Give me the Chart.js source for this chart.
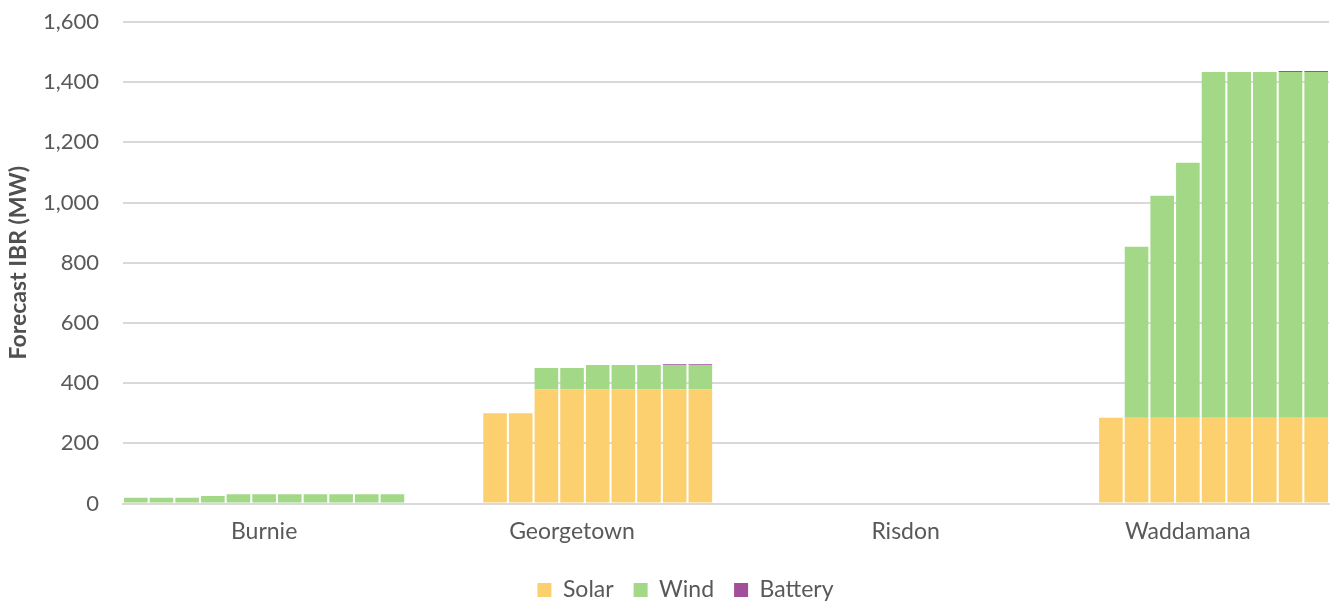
<!DOCTYPE html>
<html>
<head>
<meta charset="utf-8">
<script src="https://cdn.jsdelivr.net/npm/chart.js@4.4.1/dist/chart.umd.min.js"></script>
<style>
  html, body { margin: 0; padding: 0; background: #ffffff; }
  #wrap { width: 1334px; height: 606px; }
</style>
</head>
<body>
<div id="wrap"><canvas id="c" width="1334" height="606"></canvas></div>
<script>
// Sites along the category axis
const sites = ['Burnie', 'Georgetown', 'Risdon', 'Waddamana'];

// Forecast inverter-based resources (MW), one value per forecast year (11 years)
const burnieSolar       = [0, 0, 0, 0, 0, 0, 0, 0, 0, 0, 0];
const burnieWind        = [19, 19, 19, 25, 31, 31, 31, 31, 31, 31, 31];
const burnieBattery     = [0, 0, 0, 0, 0, 0, 0, 0, 0, 0, 0];

const georgetownSolar   = [0, 0, 300, 300, 380, 380, 380, 380, 380, 380, 380];
const georgetownWind    = [0, 0, 0, 0, 70, 70, 80, 80, 80, 80, 80];
const georgetownBattery = [0, 0, 0, 0, 0, 0, 0, 0, 0, 3, 3];

const risdonSolar       = [0, 0, 0, 0, 0, 0, 0, 0, 0, 0, 0];
const risdonWind        = [0, 0, 0, 0, 0, 0, 0, 0, 0, 0, 0];
const risdonBattery     = [0, 0, 0, 0, 0, 0, 0, 0, 0, 0, 0];

const waddamanaSolar    = [0, 0, 285, 285, 285, 285, 285, 285, 285, 285, 285];
const waddamanaWind     = [0, 0, 0, 568, 738, 847, 1149, 1149, 1149, 1149, 1149];
const waddamanaBattery  = [0, 0, 0, 0, 0, 0, 0, 0, 0, 3, 3];

// Y axis ticks
const yTicks = [0, 200, 400, 600, 800, 1000, 1200, 1400, 1600];

const seriesNames = ['Solar', 'Wind', 'Battery'];
const seriesColors = ['#FCD06E', '#A2D886', '#A34E9A'];

// Layout: blank slots placed after each site group
const gapSlots = [1, 2, 0];

const solarBySite   = [burnieSolar, georgetownSolar, risdonSolar, waddamanaSolar];
const windBySite    = [burnieWind, georgetownWind, risdonWind, waddamanaWind];
const batteryBySite = [burnieBattery, georgetownBattery, risdonBattery, waddamanaBattery];

// Flatten the per-site yearly values into one slot per bar; the site name sits on the middle slot
const labels = [];
const solar = [], wind = [], battery = [];
sites.forEach((site, i) => {
  const n = solarBySite[i].length;
  for (let j = 0; j < n; j++) {
    labels.push(j === Math.floor(n / 2) ? site : '');
    solar.push(solarBySite[i][j]);
    wind.push(windBySite[i][j]);
    battery.push(batteryBySite[i][j]);
  }
  const g = gapSlots[i] || 0;
  for (let k = 0; k < g; k++) {
    labels.push('');
    solar.push(null); wind.push(null); battery.push(null);
  }
});

const FONT = 'Lato, "Liberation Sans", sans-serif';
const TEXT = '#595959';
const GRID = '#d9d9d9';

// Place the legend row under the axis labels
const legendPlace = {
  id: 'legendPlace',
  afterLayout(chart) {
    const lg = chart.legend;
    const dx = 21;
    const dy = 558.5 - lg.top;
    lg.left += dx; lg.right += dx;
    lg.top += dy; lg.bottom += dy;
  }
};

new Chart(document.getElementById('c'), {
  type: 'bar',
  data: {
    labels: labels,
    datasets: [solar, wind, battery].map((data, i) => ({
      label: seriesNames[i],
      data: data,
      backgroundColor: seriesColors[i],
      borderWidth: 0,
      barPercentage: 0.92,
      categoryPercentage: 1.0,
      stack: 'ibr'
    }))
  },
  options: {
    responsive: false,
    animation: false,
    devicePixelRatio: 1,
    layout: { padding: { top: 22, right: 5, bottom: 5, left: 0 } },
    plugins: {
      legend: {
        position: 'bottom',
        labels: {
          boxWidth: 14,
          boxHeight: 14,
          padding: 20,
          color: TEXT,
          font: { family: FONT, size: 23 }
        }
      },
      tooltip: { enabled: false }
    },
    scales: {
      x: {
        stacked: true,
        grid: { display: false, drawTicks: false },
        border: { display: true, color: GRID, width: 2 },
        ticks: {
          autoSkip: false,
          maxRotation: 0,
          minRotation: 0,
          padding: 14,
          color: TEXT,
          font: { family: FONT, size: 23 }
        },
        afterFit(scale) { scale.height = 44.5; }
      },
      y: {
        stacked: true,
        min: yTicks[0],
        max: yTicks[yTicks.length - 1],
        afterBuildTicks(scale) { scale.ticks = yTicks.map(v => ({ value: v })); },
        grid: { color: GRID, lineWidth: 2, drawTicks: false },
        border: { display: false },
        ticks: {
          padding: 24,
          color: TEXT,
          font: { family: FONT, size: 22 },
          callback: v => v.toLocaleString('en-US')
        },
        title: {
          display: true,
          text: 'Forecast IBR (MW)',
          color: '#505050',
          font: { family: FONT, size: 23, weight: 'bold' },
          padding: { top: 5, bottom: 0 }
        },
        afterFit(scale) {
          scale.width = 123;
          scale.paddingTop = 0;
          scale.paddingBottom = 0;
        }
      }
    }
  },
  plugins: [legendPlace]
});
</script>
</body>
</html>
